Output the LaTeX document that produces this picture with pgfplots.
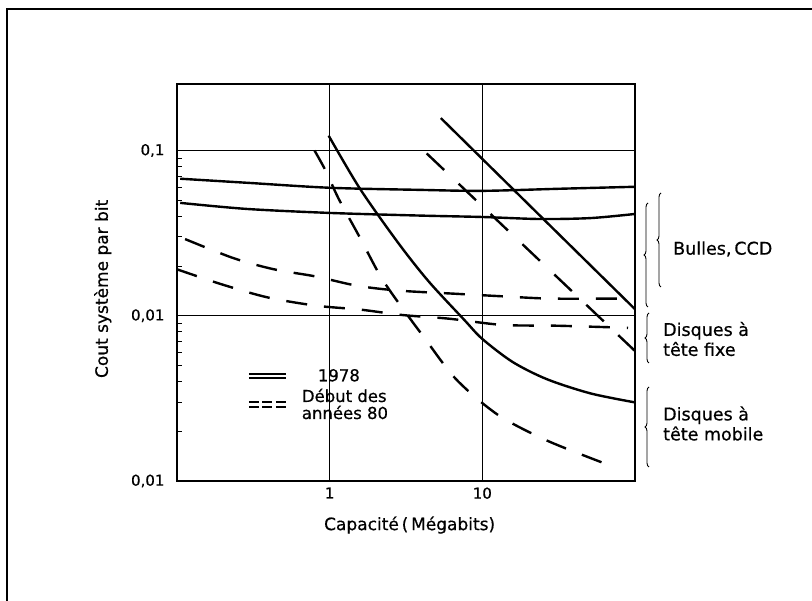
\documentclass[border=0pt]{standalone}
\usepackage{pgfplots}
\pgfplotsset{compat=1.18}
\usepackage{fontspec}
\setmainfont{DejaVu Sans}[FakeBold=0.6]
\usetikzlibrary{decorations.pathreplacing}
\begin{document}
\begin{tikzpicture}[x=1pt,y=1pt]
\useasboundingbox (-177,-120) rectangle (635,481);
\begin{axis}[
  at={(0pt,0pt)}, anchor=south west,
  scale only axis, width=458pt, height=397pt,
  xmode=log, ymode=log,
  xmin=0.1, xmax=100, ymin=0.001, ymax=0.2526,
  xtick={1,10}, xticklabels={1,10},
  ytick={0.001,0.01,0.1}, yticklabels={{0,01},{0,01},{0,1}},
  grid=major, major grid style={black, line width=1.1pt},
  axis line style={line width=1.5pt},
  xminorticks=false, yminorticks=true,
  major tick length=0pt, minor tick length=5pt,
  minor tick style={line width=1pt, black},
  tick align=inside, ytick pos=left, xtick pos=bottom,
  tick label style={font=\fontsize{15}{18}\selectfont},
  yticklabel style={xshift=-9pt},
  xticklabel style={yshift=-3pt},
  /pgf/number format/assume math mode=true,
  xlabel={Capacité\,(\,Mégabits)},
  ylabel={Cout système par bit},
  label style={font=\fontsize{17}{20}\selectfont},
  xlabel style={at={(axis description cs:0.508,-0.111)}, anchor=center},
  ylabel style={at={(axis description cs:-0.162,0.484)}, anchor=center},
  legend style={draw=none, fill=none, at={(axis description cs:0.155,0.285)}, anchor=north west,
    font=\fontsize{16.5}{17}\selectfont, inner sep=0pt, row sep=4pt,
    cells={align=left}, nodes={inner sep=1pt}},
  legend cell align=left,
  solidc/.style={black, line width=2.4pt, smooth, tension=0.5},
  dashc/.style={black, line width=2.4pt, smooth, tension=0.5, dash pattern=on 21pt off 17pt},
]
\addlegendimage{legend image code/.code={
  \draw[line width=1.4pt, solid] (0pt,2pt)--(37pt,2pt);
  \draw[line width=1.4pt, solid] (0pt,-2pt)--(37pt,-2pt);
  \path[draw=none] (0pt,0pt)--(52pt,0pt);}}
\addlegendentry{\hspace{16pt}1978}
\addlegendimage{legend image code/.code={
  \draw[line width=1.4pt, dash pattern=on 10pt off 3.5pt] (0pt,2.5pt)--(37pt,2.5pt);
  \draw[line width=1.4pt, dash pattern=on 10pt off 3.5pt] (0pt,-2.5pt)--(37pt,-2.5pt);
  \path[draw=none] (0pt,0pt)--(52pt,0pt);}}
\addlegendentry{Début des\\années 80}

% 1978 - Bulles, CCD (upper)
\addplot[solidc] coordinates {(0.105,0.0675) (0.286,0.0638) (1,0.0595) (3.83,0.0578) (10,0.0570) (32.4,0.0587) (98.5,0.0603)};
% 1978 - Bulles, CCD (lower)
\addplot[solidc] coordinates {(0.105,0.0482) (0.286,0.0443) (1,0.0419) (3.83,0.0404) (10,0.0396) (23.8,0.0385) (51.1,0.039) (100,0.0413)};
% 1978 - disques tete mobile
\addplot[solidc] coordinates {(0.985,0.123) (1.58,0.0587) (2.82,0.0275) (4.46,0.0161) (7.6,0.00946) (10,0.00724) (15.8,0.00525) (26.5,0.00413) (51.1,0.00339) (100,0.00299)};
% 1978 - disques tete fixe
\addplot[black, line width=2.4pt] coordinates {(5.35,0.157) (100,0.01096)};
% 80s - Bulles upper
\addplot[dashc] coordinates {(0.113,0.0291) (0.235,0.0223) (0.432,0.0191) (0.807,0.0173) (1.51,0.0152) (2.82,0.0142) (6.52,0.0136) (13.8,0.0131) (27.8,0.0127) (76,0.0127)};
% 80s - Bulles lower
\addplot[dashc] coordinates {(0.1,0.0191) (0.196,0.0155) (0.394,0.0129) (0.82,0.0115) (1.58,0.0109) (3.0,0.0101) (6.04,0.0096) (13.6,0.0088) (31.4,0.0087) (90,0.00845)};
% 80s - disques tete mobile
\addplot[dashc] coordinates {(0.796,0.1) (0.941,0.0755) (1.147,0.0509) (1.56,0.0303) (2.14,0.0175) (2.82,0.0120) (4.13,0.00745) (6.73,0.00413) (12.6,0.00252) (25.7,0.00178) (55.2,0.00134) (68.3,0.00125)};
% 80s - disques tete fixe
\addplot[black, line width=2.4pt, dash pattern=on 24pt off 20pt] coordinates {(4.32,0.096) (100,0.00612)};
\end{axis}
% braces and group labels
\begin{scope}[line width=0.9pt, decoration={brace, amplitude=4pt}]
\draw[decorate] (471,174) -- (471,278);
\draw[decorate] (484,194) -- (484,288);
\draw[decorate] (472,118) -- (472,168);
\draw[decorate] (472,14) -- (472,94);
\end{scope}
\begin{scope}[font=\fontsize{17.5}{20}\selectfont]
\node[anchor=west, inner sep=0pt] at (496,232) {Bulles,\,CCD};
\node[anchor=west, inner sep=0pt, align=left] at (486,142) {Disques à\\tête fixe};
\node[anchor=west, inner sep=0pt, align=left] at (486,57.5) {Disques à\\tête mobile};
\end{scope}
% outer frame
\draw[line width=2pt] (-169.7,-125) -- (-169.7,471.5) -- (640,471.5);
\end{tikzpicture}
\end{document}
